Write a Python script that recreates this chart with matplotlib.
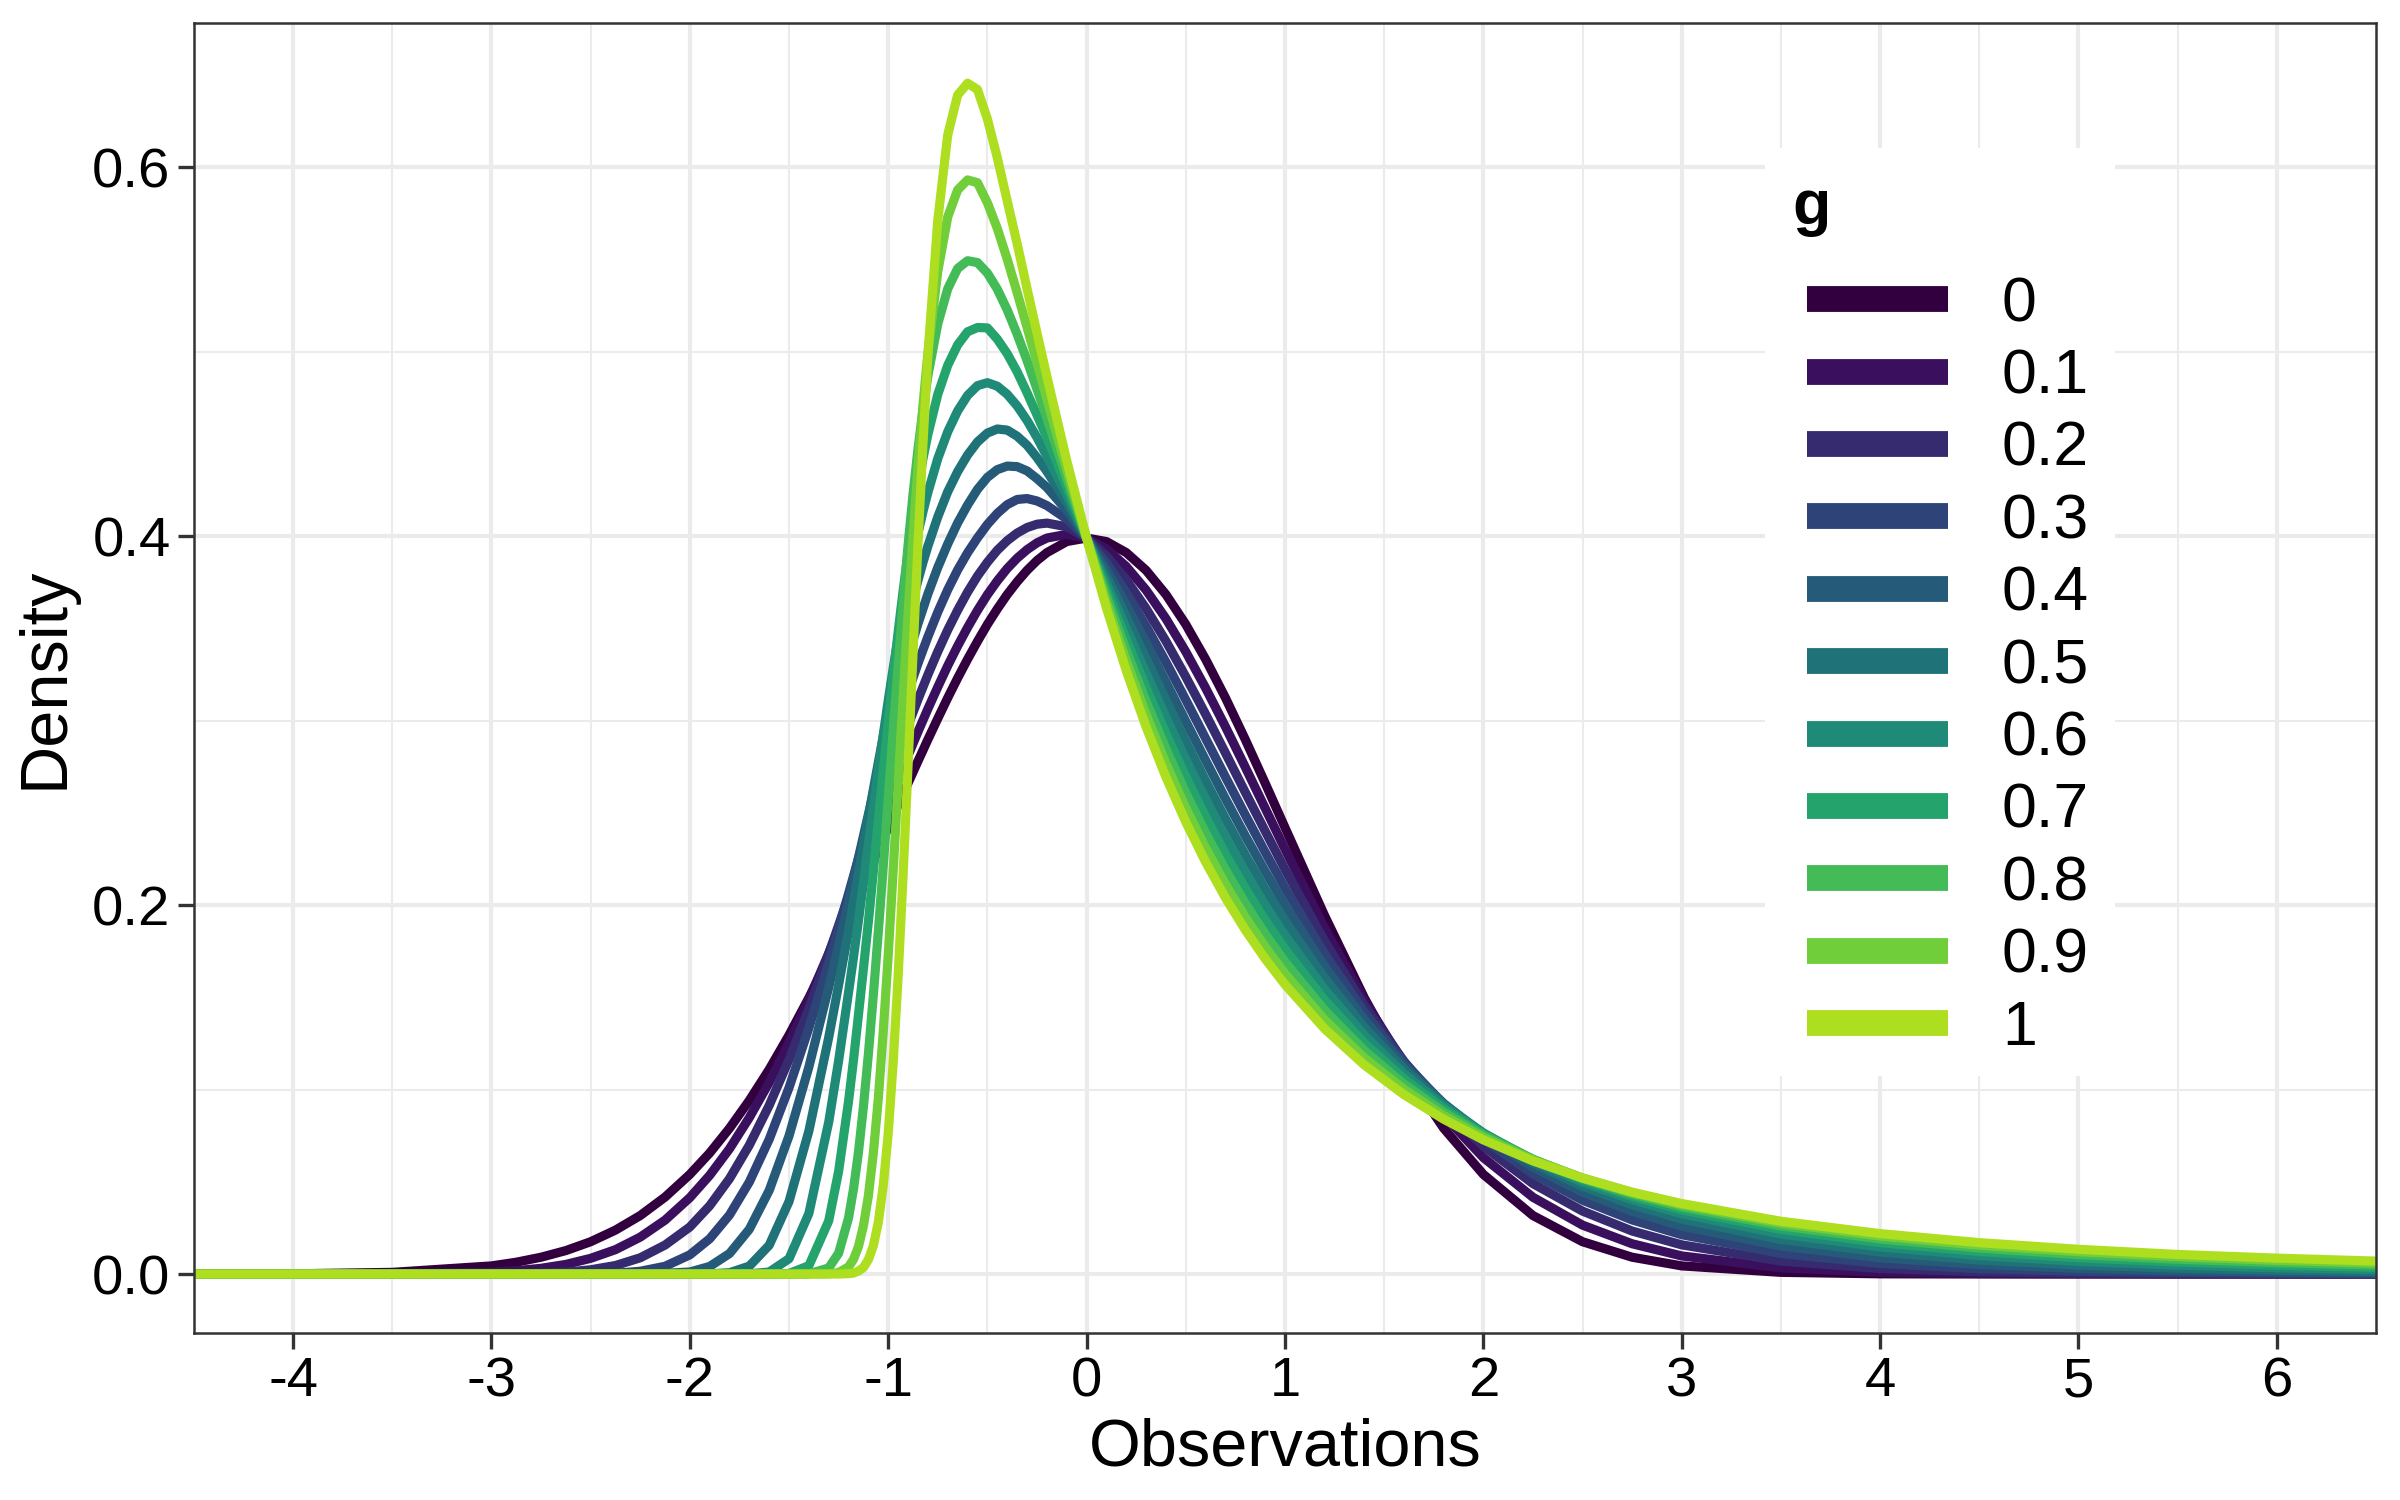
import matplotlib
matplotlib.use("Agg")
import matplotlib.pyplot as plt
from matplotlib.patches import Rectangle

plt.rcParams['font.family'] = ['Liberation Sans', 'DejaVu Sans']

obs = [-4.5, -4.0, -3.5, -3.0, -2.875, -2.75, -2.625, -2.5, -2.375, -2.25, -2.125, -2.0,
       -1.9, -1.8, -1.7, -1.6, -1.5, -1.4, -1.3,
       -1.25, -1.2, -1.175, -1.15, -1.125, -1.1, -1.075, -1.05, -1.025, -1.0,
       -0.975, -0.95, -0.925, -0.9, -0.875, -0.85, -0.825, -0.8, -0.75,
       -0.7, -0.65, -0.6, -0.55, -0.5, -0.45, -0.4, -0.35, -0.3, -0.25, -0.2,
       -0.1, 0.0, 0.1, 0.2, 0.3, 0.4, 0.5, 0.6, 0.7, 0.8, 0.9, 1.0,
       1.2, 1.4, 1.6, 1.8, 2.0, 2.25, 2.5, 2.75, 3.0,
       3.5, 4.0, 4.5, 5.0, 5.5, 6.0, 6.5]

g_levels = ['0', '0.1', '0.2', '0.3', '0.4', '0.5', '0.6', '0.7', '0.8', '0.9', '1']

dens_g00 = [0.0000, 0.0001, 0.0009, 0.0044, 0.0064, 0.0091, 0.0127, 0.0175, 0.0238, 0.0317, 0.0417, 0.0540,
            0.0656, 0.0790, 0.0941, 0.1109, 0.1295, 0.1497, 0.1714,
            0.1826, 0.1942, 0.2000, 0.2059, 0.2119, 0.2179, 0.2239, 0.2299, 0.2359, 0.2420,
            0.2480, 0.2541, 0.2600, 0.2661, 0.2720, 0.2780, 0.2838, 0.2897, 0.3011,
            0.3123, 0.3230, 0.3332, 0.3429, 0.3521, 0.3605, 0.3683, 0.3752, 0.3814, 0.3867, 0.3910,
            0.3970, 0.3989, 0.3970, 0.3910, 0.3814, 0.3683, 0.3521, 0.3332, 0.3123, 0.2897, 0.2661, 0.2420,
            0.1942, 0.1497, 0.1109, 0.0790, 0.0540, 0.0317, 0.0175, 0.0091, 0.0044,
            0.0009, 0.0001, 0.0000, 0.0000, 0.0000, 0.0000, 0.0000]

dens_g01 = [0.0000, 0.0000, 0.0001, 0.0010, 0.0018, 0.0031, 0.0052, 0.0085, 0.0132, 0.0200, 0.0292, 0.0414,
            0.0535, 0.0679, 0.0848, 0.1038, 0.1254, 0.1488, 0.1738,
            0.1869, 0.2003, 0.2070, 0.2137, 0.2205, 0.2273, 0.2341, 0.2409, 0.2477, 0.2545,
            0.2612, 0.2678, 0.2744, 0.2810, 0.2875, 0.2939, 0.3001, 0.3063, 0.3182,
            0.3297, 0.3404, 0.3504, 0.3597, 0.3682, 0.3757, 0.3824, 0.3880, 0.3926, 0.3963, 0.3989,
            0.4009, 0.3989, 0.3930, 0.3835, 0.3707, 0.3552, 0.3373, 0.3176, 0.2966, 0.2747, 0.2525, 0.2303,
            0.1874, 0.1483, 0.1143, 0.0859, 0.0631, 0.0416, 0.0265, 0.0164, 0.0098,
            0.0033, 0.0010, 0.0003, 0.0001, 0.0000, 0.0000, 0.0000]

dens_g02 = [0.0000, 0.0000, 0.0000, 0.0000, 0.0001, 0.0004, 0.0010, 0.0023, 0.0046, 0.0088, 0.0157, 0.0255,
            0.0370, 0.0517, 0.0699, 0.0914, 0.1162, 0.1438, 0.1736,
            0.1890, 0.2048, 0.2127, 0.2206, 0.2285, 0.2364, 0.2443, 0.2521, 0.2599, 0.2676,
            0.2752, 0.2828, 0.2901, 0.2974, 0.3044, 0.3114, 0.3181, 0.3248, 0.3374,
            0.3491, 0.3598, 0.3696, 0.3783, 0.3858, 0.3923, 0.3975, 0.4016, 0.4046, 0.4064, 0.4070,
            0.4050, 0.3989, 0.3892, 0.3763, 0.3607, 0.3430, 0.3237, 0.3034, 0.2824, 0.2611, 0.2401, 0.2194,
            0.1804, 0.1455, 0.1153, 0.0900, 0.0692, 0.0490, 0.0341, 0.0233, 0.0158,
            0.0070, 0.0030, 0.0012, 0.0005, 0.0002, 0.0001, 0.0000]

dens_g03 = [0.0000, 0.0000, 0.0000, 0.0000, 0.0000, 0.0000, 0.0000, 0.0001, 0.0004, 0.0015, 0.0042, 0.0104,
            0.0191, 0.0320, 0.0499, 0.0730, 0.1010, 0.1333, 0.1688,
            0.1873, 0.2061, 0.2157, 0.2253, 0.2348, 0.2442, 0.2536, 0.2629, 0.2720, 0.2811,
            0.2899, 0.2986, 0.3069, 0.3152, 0.3231, 0.3309, 0.3382, 0.3454, 0.3588,
            0.3709, 0.3816, 0.3909, 0.3990, 0.4063, 0.4123, 0.4170, 0.4198, 0.4203, 0.4190, 0.4165,
            0.4092, 0.3989, 0.3855, 0.3693, 0.3512, 0.3317, 0.3112, 0.2903, 0.2694, 0.2488, 0.2287, 0.2093,
            0.1735, 0.1419, 0.1148, 0.0920, 0.0731, 0.0543, 0.0400, 0.0293, 0.0213,
            0.0111, 0.0057, 0.0029, 0.0015, 0.0008, 0.0004, 0.0002]

dens_g04 = [0.0000, 0.0000, 0.0000, 0.0000, 0.0000, 0.0000, 0.0000, 0.0000, 0.0000, 0.0001, 0.0004, 0.0011,
            0.0041, 0.0111, 0.0243, 0.0453, 0.0749, 0.1122, 0.1553,
            0.1782, 0.2016, 0.2136, 0.2256, 0.2374, 0.2491, 0.2606, 0.2721, 0.2832, 0.2942,
            0.3046, 0.3150, 0.3248, 0.3345, 0.3435, 0.3524, 0.3605, 0.3686, 0.3830,
            0.3957, 0.4071, 0.4168, 0.4253, 0.4318, 0.4360, 0.4379, 0.4376, 0.4353, 0.4311, 0.4263,
            0.4139, 0.3989, 0.3817, 0.3626, 0.3422, 0.3210, 0.2996, 0.2784, 0.2576, 0.2375, 0.2183, 0.2000,
            0.1667, 0.1378, 0.1132, 0.0925, 0.0753, 0.0580, 0.0444, 0.0340, 0.0260,
            0.0152, 0.0088, 0.0052, 0.0031, 0.0018, 0.0011, 0.0007]

dens_g05 = [0.0000, 0.0000, 0.0000, 0.0000, 0.0000, 0.0000, 0.0000, 0.0000, 0.0000, 0.0000, 0.0000, 0.0000,
            0.0001, 0.0007, 0.0043, 0.0156, 0.0393, 0.0775, 0.1282,
            0.1567, 0.1860, 0.2016, 0.2170, 0.2325, 0.2477, 0.2627, 0.2772, 0.2915, 0.3053,
            0.3186, 0.3312, 0.3434, 0.3549, 0.3658, 0.3760, 0.3856, 0.3945, 0.4104,
            0.4240, 0.4349, 0.4439, 0.4510, 0.4558, 0.4580, 0.4574, 0.4541, 0.4492, 0.4425, 0.4350,
            0.4182, 0.3989, 0.3781, 0.3561, 0.3336, 0.3111, 0.2889, 0.2674, 0.2468, 0.2272, 0.2087, 0.1914,
            0.1603, 0.1336, 0.1111, 0.0921, 0.0763, 0.0603, 0.0476, 0.0376, 0.0298,
            0.0187, 0.0119, 0.0076, 0.0049, 0.0032, 0.0021, 0.0014]

dens_g06 = [0.0000, 0.0000, 0.0000, 0.0000, 0.0000, 0.0000, 0.0000, 0.0000, 0.0000, 0.0000, 0.0000, 0.0000,
            0.0000, 0.0000, 0.0001, 0.0011, 0.0083, 0.0328, 0.0823,
            0.1156, 0.1527, 0.1718, 0.1915, 0.2121, 0.2330, 0.2531, 0.2732, 0.2922, 0.3108,
            0.3283, 0.3450, 0.3606, 0.3754, 0.3890, 0.4015, 0.4131, 0.4236, 0.4420,
            0.4565, 0.4678, 0.4762, 0.4815, 0.4831, 0.4812, 0.4768, 0.4705, 0.4626, 0.4534, 0.4432,
            0.4221, 0.3989, 0.3745, 0.3499, 0.3255, 0.3017, 0.2789, 0.2573, 0.2368, 0.2177, 0.1999, 0.1835,
            0.1542, 0.1294, 0.1085, 0.0911, 0.0765, 0.0616, 0.0497, 0.0403, 0.0327,
            0.0217, 0.0147, 0.0100, 0.0069, 0.0048, 0.0034, 0.0024]

dens_g07 = [0.0000, 0.0000, 0.0000, 0.0000, 0.0000, 0.0000, 0.0000, 0.0000, 0.0000, 0.0000, 0.0000, 0.0000,
            0.0000, 0.0000, 0.0000, 0.0000, 0.0003, 0.0045, 0.0288,
            0.0557, 0.0936, 0.1160, 0.1405, 0.1654, 0.1910, 0.2180, 0.2460, 0.2730, 0.2990,
            0.3240, 0.3480, 0.3703, 0.3910, 0.4094, 0.4265, 0.4418, 0.4550, 0.4768,
            0.4925, 0.5036, 0.5107, 0.5130, 0.5128, 0.5067, 0.4988, 0.4890, 0.4776, 0.4656, 0.4533,
            0.4267, 0.3989, 0.3711, 0.3439, 0.3177, 0.2929, 0.2696, 0.2478, 0.2276, 0.2090, 0.1918, 0.1761,
            0.1484, 0.1252, 0.1058, 0.0896, 0.0760, 0.0622, 0.0511, 0.0421, 0.0348,
            0.0242, 0.0170, 0.0122, 0.0088, 0.0065, 0.0048, 0.0036]

dens_g08 = [0.0000, 0.0000, 0.0000, 0.0000, 0.0000, 0.0000, 0.0000, 0.0000, 0.0000, 0.0000, 0.0000, 0.0000,
            0.0000, 0.0000, 0.0000, 0.0000, 0.0000, 0.0001, 0.0033,
            0.0113, 0.0304, 0.0461, 0.0660, 0.0907, 0.1192, 0.1511, 0.1854, 0.2213, 0.2580,
            0.2945, 0.3300, 0.3638, 0.3950, 0.4226, 0.4470, 0.4685, 0.4870, 0.5150,
            0.5340, 0.5450, 0.5492, 0.5482, 0.5425, 0.5338, 0.5225, 0.5094, 0.4950, 0.4796, 0.4638,
            0.4313, 0.3989, 0.3677, 0.3380, 0.3103, 0.2846, 0.2608, 0.2390, 0.2191, 0.2009, 0.1843, 0.1692,
            0.1429, 0.1211, 0.1029, 0.0878, 0.0752, 0.0622, 0.0518, 0.0433, 0.0364,
            0.0261, 0.0190, 0.0141, 0.0105, 0.0080, 0.0062, 0.0048]

dens_g09 = [0.0000, 0.0000, 0.0000, 0.0000, 0.0000, 0.0000, 0.0000, 0.0000, 0.0000, 0.0000, 0.0000, 0.0000,
            0.0000, 0.0000, 0.0000, 0.0000, 0.0000, 0.0000, 0.0001,
            0.0008, 0.0039, 0.0079, 0.0149, 0.0261, 0.0424, 0.0655, 0.0950, 0.1315, 0.1730,
            0.2185, 0.2658, 0.3127, 0.3580, 0.3997, 0.4376, 0.4706, 0.4991, 0.5434,
            0.5729, 0.5876, 0.5930, 0.5915, 0.5806, 0.5667, 0.5500, 0.5319, 0.5131, 0.4937, 0.4742,
            0.4360, 0.3989, 0.3643, 0.3324, 0.3032, 0.2767, 0.2526, 0.2309, 0.2112, 0.1934, 0.1774, 0.1628,
            0.1377, 0.1171, 0.1001, 0.0859, 0.0741, 0.0619, 0.0521, 0.0441, 0.0375,
            0.0275, 0.0206, 0.0156, 0.0121, 0.0094, 0.0074, 0.0059]

dens_g10 = [0.0000, 0.0000, 0.0000, 0.0000, 0.0000, 0.0000, 0.0000, 0.0000, 0.0000, 0.0000, 0.0000, 0.0000,
            0.0000, 0.0000, 0.0000, 0.0000, 0.0000, 0.0000, 0.0000,
            0.0000, 0.0002, 0.0005, 0.0016, 0.0035, 0.0078, 0.0153, 0.0280, 0.0480, 0.0762,
            0.1146, 0.1613, 0.2163, 0.2756, 0.3363, 0.3956, 0.4497, 0.4980, 0.5713,
            0.6174, 0.6390, 0.6454, 0.6420, 0.6260, 0.6050, 0.5816, 0.5584, 0.5340, 0.5100, 0.4864,
            0.4408, 0.3989, 0.3610, 0.3270, 0.2965, 0.2693, 0.2450, 0.2233, 0.2039, 0.1865, 0.1709, 0.1569,
            0.1329, 0.1133, 0.0972, 0.0839, 0.0727, 0.0613, 0.0520, 0.0444, 0.0382,
            0.0286, 0.0219, 0.0170, 0.0134, 0.0106, 0.0086, 0.0070]

all_dens = [dens_g00, dens_g01, dens_g02, dens_g03, dens_g04, dens_g05,
            dens_g06, dens_g07, dens_g08, dens_g09, dens_g10]

colors = ['#33003f', '#3a105e', '#352b6e', '#2e4479', '#255b78', '#1f7378',
          '#1f8a78', '#25a36d', '#43bb56', '#70ce3b', '#adde1f']

fig = plt.figure(figsize=(8, 5), dpi=300)
ax = fig.add_axes([0.0808, 0.1113, 0.9092, 0.8733])

for lev, dens, col in zip(g_levels, all_dens, colors):
    ax.plot(obs, dens, color=col, lw=2.2,
            solid_capstyle='butt', solid_joinstyle='round')

ax.set_xlim(-4.5, 6.5)
ax.set_ylim(-0.032, 0.678)

xt = list(range(-4, 7))
ax.set_xticks(xt)
ax.set_xticklabels([str(v) for v in xt])
ax.set_xticks([v + 0.5 for v in range(-4, 6)], minor=True)
ax.set_yticks([0.0, 0.2, 0.4, 0.6])
ax.set_yticklabels(['0.0', '0.2', '0.4', '0.6'])
ax.set_yticks([0.1, 0.3, 0.5], minor=True)

ax.grid(which='major', color='#ebebeb', lw=1.0)
ax.grid(which='minor', color='#ebebeb', lw=0.5)
ax.set_axisbelow(True)

for sp in ax.spines.values():
    sp.set_color('#333333')
    sp.set_linewidth(0.6)

ax.tick_params(which='major', length=3.8, width=0.8, color='#333333',
               labelsize=13.5, labelcolor='black', pad=1.8)
ax.tick_params(which='minor', length=0)

ax.set_xlabel('Observations', fontsize=16)
ax.set_ylabel('Density', fontsize=16)
ax.xaxis.label.set_va('center')
ax.xaxis.set_label_coords(0.5, -0.0885)
ax.yaxis.label.set_va('center')
ax.yaxis.set_label_coords(-0.0678, 0.5)

# legend drawn by hand so the spacing can follow the original layout
tr = ax.transAxes
ax.add_patch(Rectangle((0.7200, 0.1962), 0.8804 - 0.7200, 0.9046 - 0.1962,
                       transform=tr, facecolor='white', edgecolor='none', zorder=5))
ax.text(0.7324, 0.8466, 'g', transform=tr, fontsize=15, fontweight='bold',
        ha='left', va='baseline', zorder=6)
for i, (lev, col) in enumerate(zip(g_levels, colors)):
    yk = 0.7893 - 0.05527 * i
    ax.plot([0.7392, 0.8038], [yk, yk], transform=tr, color=col, lw=6.2,
            solid_capstyle='butt', zorder=6, clip_on=False)
    ax.text(0.8286, 0.7725 - 0.05527 * i, lev, transform=tr, fontsize=15,
            ha='left', va='baseline', zorder=6)

fig.savefig('out.png', dpi=300, facecolor='white')
